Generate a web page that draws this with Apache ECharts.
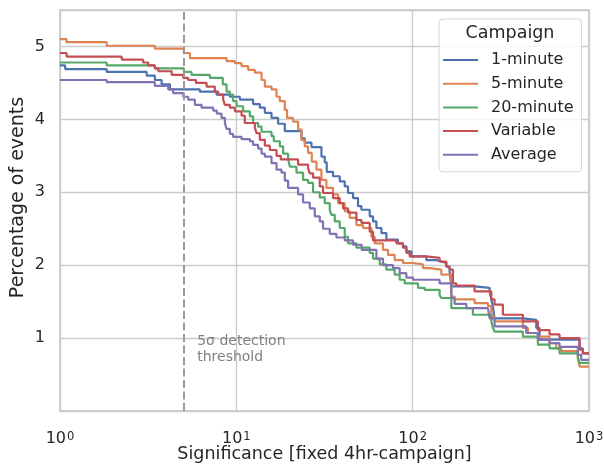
<!DOCTYPE html>
<html>
<head>
<meta charset="utf-8">
<script src="https://cdn.jsdelivr.net/npm/echarts@6/dist/echarts.min.js"></script>
<style>
  html, body { margin: 0; padding: 0; background: #ffffff; }
  #chart { width: 604px; height: 466px; }
</style>
</head>
<body>
<div id="chart"></div>
<script>
// Cumulative percentage of events above each significance, per campaign.
// Each pair: significance where the step drops, and the percentage after it.
const campaigns = ['1-minute', '5-minute', '20-minute', 'Variable', 'Average'];
const colors = ['#4C72B0', '#DD8452', '#55A868', '#C44E52', '#8172B3'];

const sig1min = [1, 1.07, 1.84, 3.10, 3.45, 3.77, 4.20, 6.21, 7.72, 9.19, 10.47, 12.45, 13.59, 14.51, 15.83, 17.26, 18.83, 23.41, 24.44, 26.68, 30.39, 31.72, 32.56, 35.35, 38.59, 41.18, 42.99, 45.91, 48.99, 51.21, 57.06, 59.58, 62.27, 66.47, 70.96, 82.55, 88.11, 92.11, 98.31, 119.6, 136.2, 145.4, 155.2, 162.0, 165.7, 224.5, 273.1, 279.2, 285.1, 291.4, 421.7, 502.3, 524.3, 883.7, 922.5, 1000];
const pct1min = [4.74, 4.69, 4.65, 4.60, 4.54, 4.48, 4.41, 4.38, 4.34, 4.31, 4.27, 4.21, 4.16, 4.09, 4.02, 3.94, 3.84, 3.74, 3.68, 3.62, 3.49, 3.41, 3.28, 3.22, 3.15, 3.08, 2.99, 2.92, 2.81, 2.76, 2.67, 2.60, 2.51, 2.44, 2.35, 2.30, 2.26, 2.19, 2.12, 2.07, 2.05, 2.03, 1.98, 1.91, 1.71, 1.69, 1.64, 1.53, 1.43, 1.27, 1.25, 1.14, 0.98, 0.86, 0.79, 0.79];

const sig5min = [1, 1.09, 1.84, 3.45, 5.04, 5.45, 8.80, 9.81, 10.70, 11.67, 12.73, 13.90, 14.51, 15.83, 16.90, 17.64, 18.83, 19.40, 20.98, 22.39, 23.41, 24.44, 25.52, 26.78, 28.48, 30.39, 32.43, 35.35, 37.75, 41.18, 43.97, 47.97, 52.29, 58.34, 60.91, 67.88, 72.47, 79.07, 88.11, 100.4, 114.4, 124.9, 145.4, 165.7, 173.0, 224.5, 267.2, 279.2, 291.4, 421.7, 450.2, 512.9, 597.3, 652.0, 696.0, 864.3, 883.7, 1000];
const pct5min = [5.10, 5.06, 5.01, 4.97, 4.91, 4.84, 4.80, 4.77, 4.73, 4.68, 4.64, 4.54, 4.45, 4.41, 4.31, 4.25, 4.13, 4.02, 3.97, 3.86, 3.72, 3.63, 3.54, 3.42, 3.31, 3.17, 3.06, 2.97, 2.85, 2.74, 2.65, 2.55, 2.51, 2.39, 2.30, 2.21, 2.14, 2.07, 2.03, 2.01, 1.96, 1.94, 1.87, 1.57, 1.53, 1.48, 1.44, 1.30, 1.23, 1.14, 1.07, 1.02, 0.93, 0.86, 0.82, 0.73, 0.61, 0.61];

const sig20min = [1, 1.84, 3.45, 5.04, 5.57, 7.08, 8.38, 8.80, 9.19, 9.59, 10.03, 10.93, 11.93, 12.45, 13.29, 13.90, 15.83, 16.31, 17.64, 18.42, 19.66, 20.14, 21.93, 23.90, 25.52, 27.23, 29.72, 31.72, 33.86, 34.63, 36.15, 38.59, 41.18, 42.99, 47.97, 57.06, 59.58, 65.01, 70.96, 79.07, 84.40, 90.10, 107.2, 117.0, 142.2, 145.4, 165.7, 219.6, 279.2, 285.1, 291.4, 421.7, 512.9, 597.3, 680.7, 864.3, 883.7, 1000];
const pct20min = [4.78, 4.74, 4.70, 4.65, 4.61, 4.57, 4.48, 4.38, 4.34, 4.25, 4.18, 4.11, 4.04, 3.95, 3.90, 3.83, 3.77, 3.70, 3.63, 3.53, 3.45, 3.35, 3.27, 3.17, 3.13, 3.00, 2.93, 2.85, 2.76, 2.69, 2.60, 2.51, 2.39, 2.30, 2.24, 2.17, 2.09, 2.01, 1.94, 1.87, 1.80, 1.75, 1.69, 1.66, 1.59, 1.55, 1.41, 1.32, 1.23, 1.14, 1.09, 1.02, 0.91, 0.86, 0.79, 0.73, 0.66, 0.66];

const sigVar = [1, 1.09, 2.24, 2.96, 3.16, 3.45, 3.61, 4.30, 5.00, 5.33, 5.90, 6.78, 7.55, 7.89, 8.42, 8.61, 9.19, 9.81, 10.70, 11.17, 12.73, 13.01, 13.59, 14.51, 15.48, 16.90, 17.87, 22.39, 25.52, 26.09, 27.23, 29.72, 31.03, 35.35, 38.59, 40.28, 42.99, 47.97, 51.21, 57.06, 59.58, 80.83, 88.11, 92.11, 96.16, 119.6, 142.2, 155.2, 162.0, 169.2, 176.9, 224.5, 279.2, 291.4, 324.8, 421.7, 512.9, 597.3, 680.7, 883.7, 922.5, 1000];
const pctVar = [4.91, 4.86, 4.82, 4.78, 4.74, 4.70, 4.66, 4.61, 4.57, 4.54, 4.50, 4.45, 4.38, 4.34, 4.27, 4.20, 4.16, 4.11, 4.05, 3.95, 3.89, 3.81, 3.72, 3.64, 3.58, 3.50, 3.45, 3.38, 3.33, 3.26, 3.20, 3.08, 2.99, 2.92, 2.85, 2.78, 2.72, 2.62, 2.58, 2.46, 2.34, 2.30, 2.24, 2.17, 2.12, 2.10, 2.05, 1.98, 1.94, 1.75, 1.72, 1.64, 1.53, 1.46, 1.32, 1.23, 1.11, 1.05, 1.00, 0.84, 0.79, 0.79];

const sigAvg = [1, 1.84, 3.45, 4.11, 4.38, 5.00, 5.33, 5.82, 6.35, 7.39, 7.75, 8.24, 8.61, 8.80, 9.19, 9.59, 10.70, 11.93, 12.45, 13.29, 13.90, 14.51, 15.83, 16.90, 18.03, 18.83, 19.66, 22.39, 23.90, 26.09, 27.85, 29.72, 31.03, 33.86, 36.96, 41.18, 45.91, 51.40, 62.27, 67.88, 77.33, 84.40, 92.11, 100.4, 142.2, 165.7, 173.0, 201.5, 267.2, 273.1, 291.4, 440.9, 512.9, 597.3, 680.7, 864.3, 903.3, 1000];
const pctAvg = [4.54, 4.51, 4.46, 4.41, 4.36, 4.31, 4.27, 4.20, 4.16, 4.12, 4.08, 4.02, 3.95, 3.87, 3.80, 3.76, 3.73, 3.70, 3.65, 3.60, 3.53, 3.49, 3.40, 3.31, 3.27, 3.16, 3.06, 2.97, 2.86, 2.78, 2.67, 2.60, 2.50, 2.43, 2.38, 2.34, 2.28, 2.21, 2.09, 2.00, 1.96, 1.89, 1.83, 1.80, 1.75, 1.55, 1.47, 1.41, 1.39, 1.27, 1.16, 1.07, 0.98, 0.93, 0.88, 0.77, 0.70, 0.70];

const thresholdSigma = 5;
const thresholdText = '5\u03c3 detection\nthreshold';
const yTicks = [1, 2, 3, 4, 5];

const sigs = [sig1min, sig5min, sig20min, sigVar, sigAvg];
const pcts = [pct1min, pct5min, pct20min, pctVar, pctAvg];

const FONT = 'DejaVu Sans';
const TEXT = '#262626';
const GRID = '#cccccc';

const chart = echarts.init(document.getElementById('chart'), null, { renderer: 'canvas' });

const series = campaigns.map((name, i) => ({
  name: name,
  type: 'line',
  step: 'end',
  symbol: 'none',
  data: sigs[i].map((s, k) => [s, pcts[i][k]]),
  lineStyle: { color: colors[i], width: 2.2 },
  itemStyle: { color: colors[i] },
  emphasis: { disabled: true },
  animation: false,
  z: 3
}));

// Vertical dashed threshold marker
series[0].markLine = {
  silent: true,
  symbol: 'none',
  label: { show: false },
  lineStyle: { color: '#9a9a9a', type: [8, 3.5], width: 2 },
  data: [{ xAxis: thresholdSigma }],
  animation: false
};

chart.setOption({
  animation: false,
  textStyle: { fontFamily: FONT },
  grid: {
    left: 60, right: 15, top: 10, bottom: 55,
    containLabel: false,
    outerBoundsMode: 'none',
    show: true, borderColor: GRID, borderWidth: 1.8, backgroundColor: '#ffffff'
  },
  xAxis: {
    type: 'log', logBase: 10, min: 1, max: 1000,
    name: 'Significance [fixed 4hr-campaign]',
    nameLocation: 'middle', nameGap: 34,
    nameMoveOverlap: false,
    nameTextStyle: { fontSize: 17.5, color: TEXT, fontFamily: FONT },
    axisLine: { show: false },
    axisTick: { show: false },
    minorTick: { show: false },
    splitLine: { show: true, lineStyle: { color: GRID, width: 1.4 } },
    axisLabel: {
      margin: 20,
      color: TEXT,
      fontFamily: FONT,
      formatter: v => '{b|10}{s|' + Math.round(Math.log10(v)) + '}',
      rich: {
        b: { fontSize: 16, color: TEXT, fontFamily: FONT, lineHeight: 16, verticalAlign: 'bottom' },
        s: { fontSize: 11.5, color: TEXT, fontFamily: FONT, lineHeight: 16, verticalAlign: 'top', padding: [0, 0, 0, 1] }
      }
    }
  },
  yAxis: {
    type: 'value', min: 0, max: 5.5, interval: 1,
    name: 'Percentage of events',
    nameLocation: 'middle', nameGap: 32, nameRotate: 90,
    nameMoveOverlap: false,
    nameTextStyle: { fontSize: 19, color: TEXT, fontFamily: FONT, padding: [0, 0, 0, 26] },
    axisLine: { show: false },
    axisTick: { show: false },
    splitLine: { show: true, lineStyle: { color: GRID, width: 1.4 } },
    axisLabel: {
      margin: 15, fontSize: 16, color: TEXT, fontFamily: FONT,
      showMaxLabel: false,
      formatter: v => (yTicks.indexOf(v) >= 0 ? String(v) : '')
    }
  },
  legend: {
    data: campaigns,
    orient: 'vertical',
    left: 439, top: 19,
    padding: [32, 8, 8, 4],
    itemGap: 5.7,
    itemWidth: 35, itemHeight: 2,
    icon: 'rect',
    backgroundColor: 'rgba(255,255,255,0.8)',
    borderColor: '#d6d6d6', borderWidth: 1, borderRadius: 4,
    selectedMode: false,
    textStyle: { fontSize: 16, color: TEXT, fontFamily: FONT, lineHeight: 18, padding: [0, 0, 0, 8] }
  },
  series: series
});

// Legend heading and threshold annotation
const annot = chart.convertToPixel({ xAxisIndex: 0, yAxisIndex: 0 }, [6, 0.85]);

chart.setOption({
  graphic: [
    {
      type: 'text', z: 100,
      x: 510, y: 33,
      style: {
        text: 'Campaign', fill: TEXT, font: '17.5px "DejaVu Sans"',
        align: 'center', verticalAlign: 'middle'
      }
    },
    {
      type: 'text', z: 100,
      x: annot[0], y: annot[1],
      style: {
        text: thresholdText, fill: '#808080', font: '14px "DejaVu Sans"',
        align: 'left', verticalAlign: 'middle', lineHeight: 16
      }
    }
  ]
});
</script>
</body>
</html>
